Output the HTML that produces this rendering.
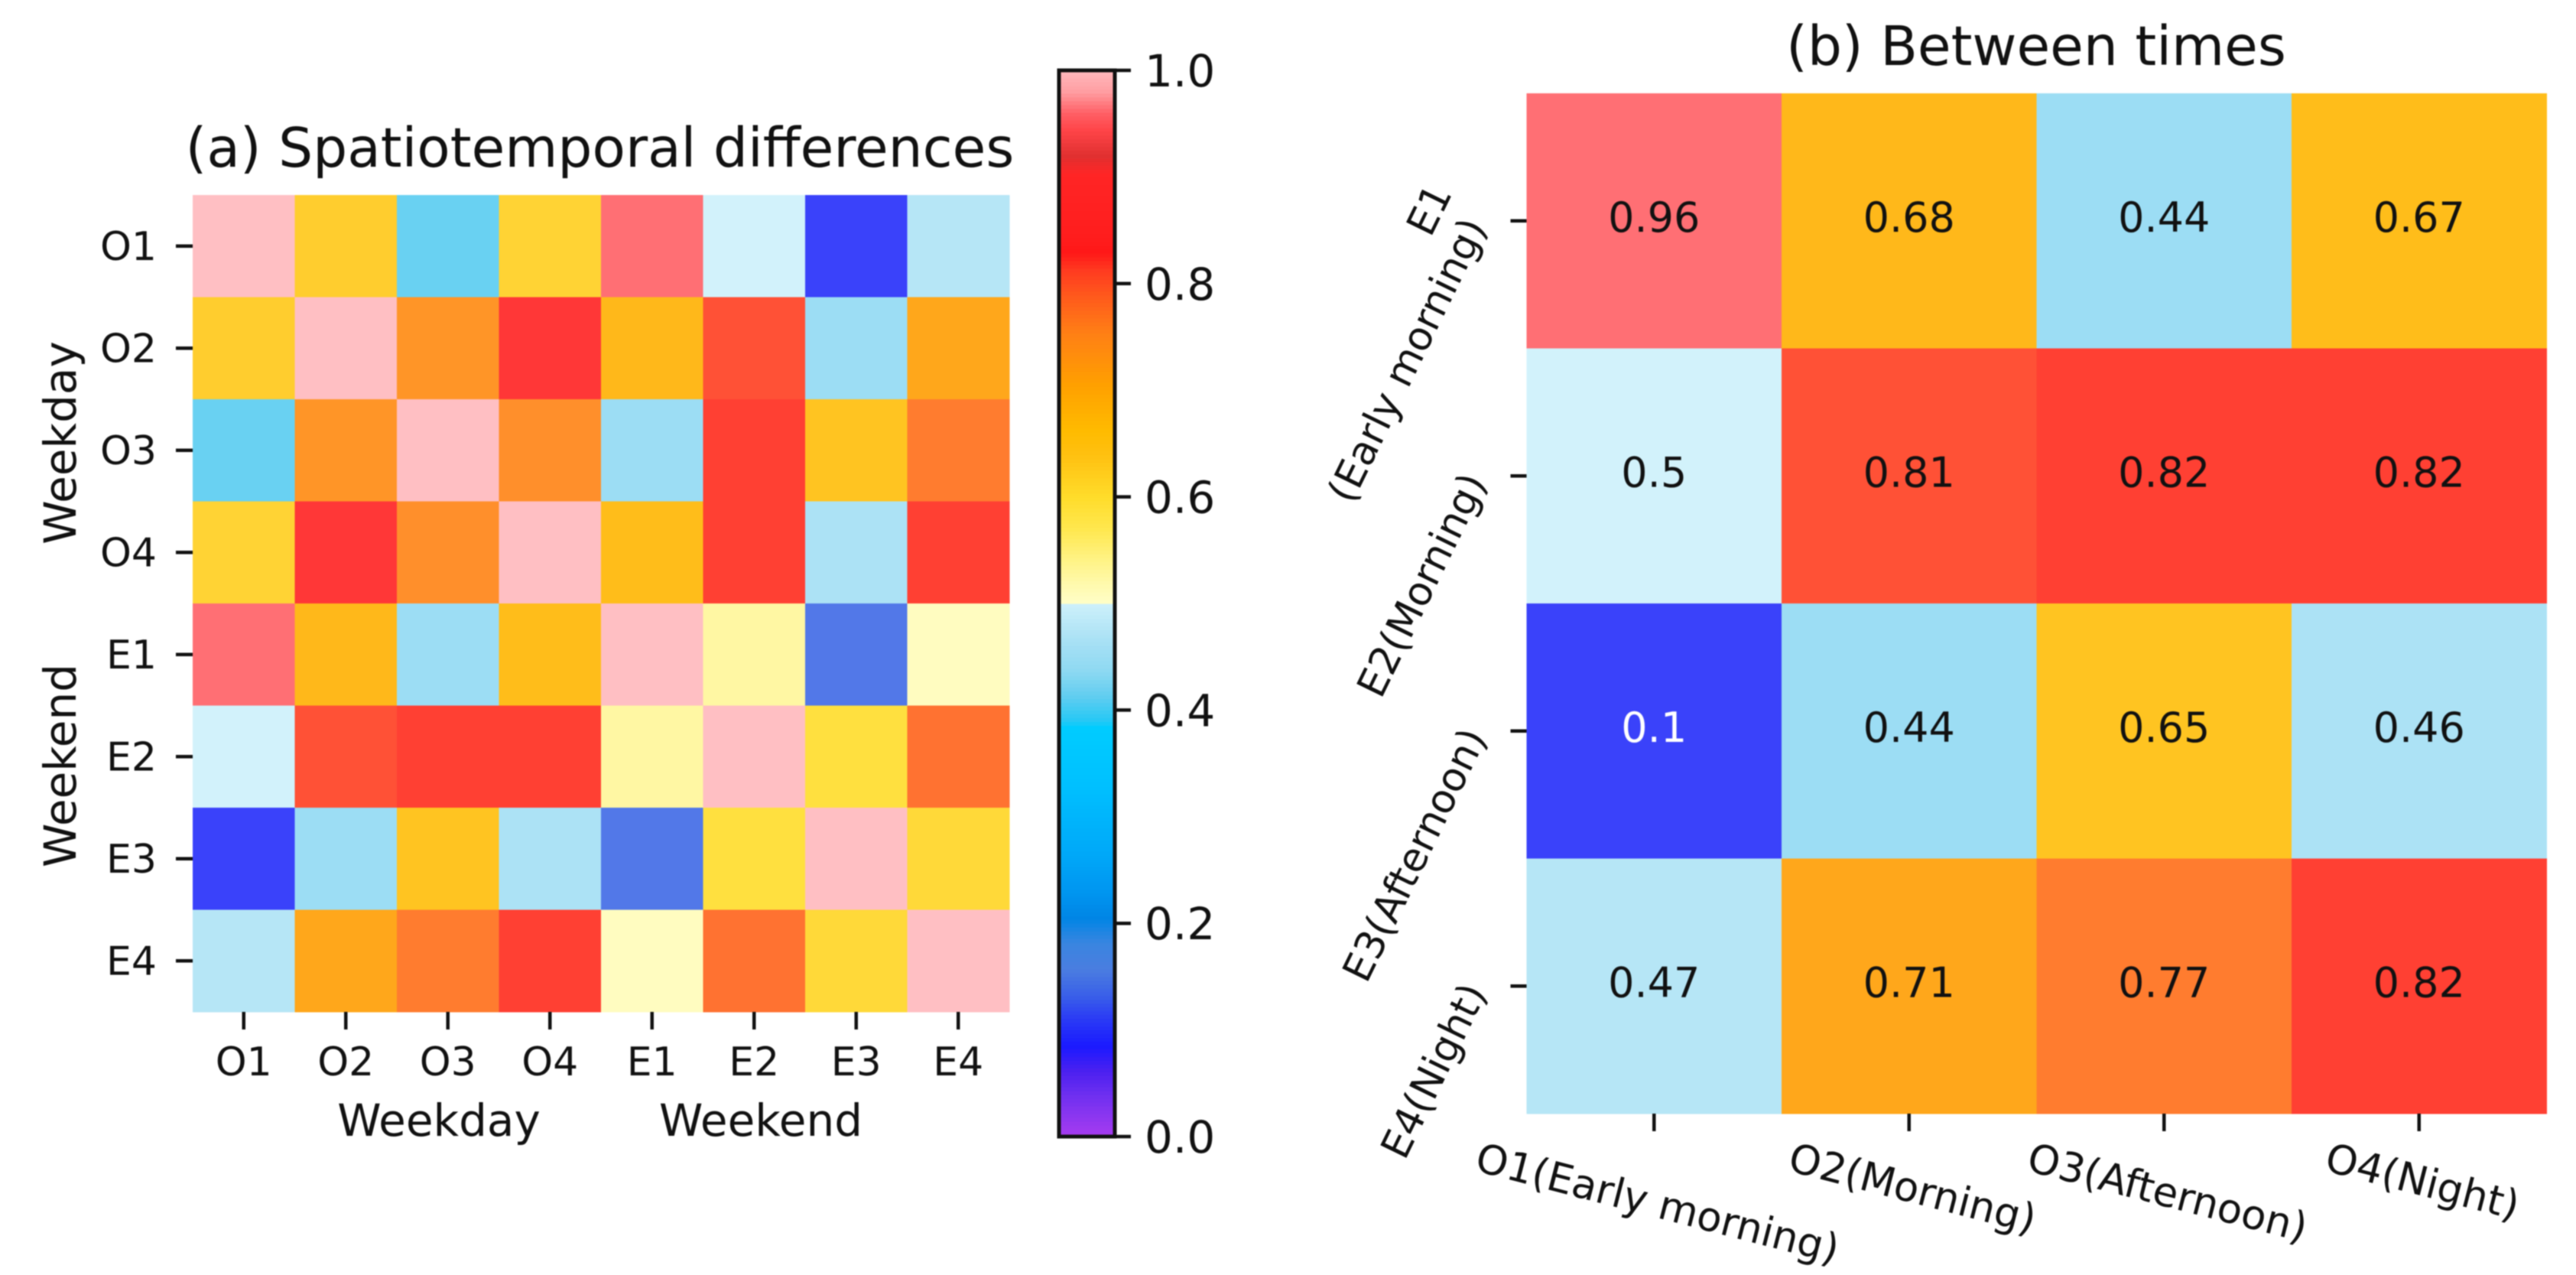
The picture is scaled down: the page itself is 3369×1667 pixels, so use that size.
<!DOCTYPE html>
<html>
<head>
<meta charset="utf-8">
<title>Spatiotemporal differences heatmaps</title>
<style>
html,body{margin:0;padding:0;background:#fff;}
svg{display:block;filter:blur(0.9px);}
text{font-family:"DejaVu Sans","Liberation Sans",sans-serif;fill:#111;}
</style>
</head>
<body>
<svg id="chart" xmlns="http://www.w3.org/2000/svg" width="3369" height="1667" viewBox="0 0 3369 1667">
<rect x="0" y="0" width="3369" height="1667" fill="#ffffff"/>
<text x="784.5" y="218" font-size="71" text-anchor="middle">(a) Spatiotemporal differences</text>
<text x="574" y="1485" font-size="58" text-anchor="middle">Weekday</text>
<text x="995" y="1485" font-size="58" text-anchor="middle">Weekend</text>
<text transform="translate(99,579) rotate(-90)" font-size="58" text-anchor="middle">Weekday</text>
<text transform="translate(99,1001) rotate(-90)" font-size="58" text-anchor="middle">Weekend</text>
<text x="2663" y="85" font-size="71" text-anchor="middle">(b) Between times</text>
</svg>
<script>
// ---- Panel (a) data ----
const categoriesA = ["O1","O2","O3","O4","E1","E2","E3","E4"];
const rowO1 = [1.00,0.63,0.41,0.62,0.96,0.50,0.10,0.47];
const rowO2 = [0.63,1.00,0.74,0.87,0.68,0.81,0.44,0.71];
const rowO3 = [0.41,0.74,1.00,0.75,0.44,0.82,0.65,0.77];
const rowO4 = [0.62,0.87,0.75,1.00,0.67,0.82,0.46,0.82];
const rowE1 = [0.96,0.68,0.44,0.67,1.00,0.53,0.14,0.51];
const rowE2 = [0.50,0.81,0.82,0.82,0.53,1.00,0.60,0.78];
const rowE3 = [0.10,0.44,0.65,0.46,0.14,0.60,1.00,0.61];
const rowE4 = [0.47,0.71,0.77,0.82,0.51,0.78,0.61,1.00];
const valuesA = [rowO1,rowO2,rowO3,rowO4,rowE1,rowE2,rowE3,rowE4];

// ---- Panel (b) data ----
const xLabelsB = ["O1(Early morning)","O2(Morning)","O3(Afternoon)","O4(Night)"];
const yLabelsB = [["E1","(Early morning)"],["E2(Morning)"],["E3(Afternoon)"],["E4(Night)"]];
const rowBE1 = [0.96,0.68,0.44,0.67];
const rowBE2 = [0.5,0.81,0.82,0.82];
const rowBE3 = [0.1,0.44,0.65,0.46];
const rowBE4 = [0.47,0.71,0.77,0.82];
const valuesB = [rowBE1,rowBE2,rowBE3,rowBE4];

// ---- Colour bar data ----
const colorbarTicks = [0,0.2,0.4,0.6,0.8,1];
const colorbarTickLabels = ["0.0","0.2","0.4","0.6","0.8","1.0"];
const colormapValues = [0,0.038,0.062,0.085,0.11,0.133,0.157,0.181,0.205,0.229,0.265,0.329,0.384,0.39,0.413,0.437,0.461,0.5,0.5001,0.52,0.544,0.569,0.6,0.64,0.662,0.705,0.753,0.788,0.813,0.829,0.849,0.903,0.92,0.944,0.96,0.98,1];
const colormapColors = ["#a83cf0","#7030f0","#4a20f0","#1a1aff","#2a3af5","#3a60e8","#4a7de0","#3a85e0","#0085e5","#0095f0","#00a8f8","#00c0ff","#00ccff","#25c8f5","#60cdf0","#8ed9f2","#a4dff4","#cdf0fa","#ffffc8","#fff9aa","#fff280","#ffe850","#ffdc2a","#ffc010","#ffbb00","#ffa000","#ff8015","#ff5a1c","#ff3a20","#ff1818","#ff1e1e","#ff2525","#e03030","#ff4448","#ff5f65","#ff9ea2","#ffb8bc"];

// ---- Scales ----
const svg = document.getElementById('chart');
const NS = 'http://www.w3.org/2000/svg';
const plotA = {left:252, top:255, size:1068};
const plotB = {left:1996.5, top:122, size:1334};
const barBox = {left:1385, right:1458, top:92, bottom:1486};
function bandA(i){ return i * plotA.size / categoriesA.length; }
function bandBX(i){ return plotB.left + i * plotB.size / xLabelsB.length; }
function bandBY(i){ return plotB.top + i * plotB.size / yLabelsB.length; }
function barY(v){ return barBox.bottom - v * (barBox.bottom - barBox.top); }

function hexRgb(h){ return [1,3,5].map(function(p){ return parseInt(h.substr(p,2),16); }); }
function cmap(v){
  v = Math.max(0, Math.min(1, v));
  let k = 0;
  while (k < colormapValues.length - 2 && v > colormapValues[k+1]) k++;
  const a = colormapValues[k], b = colormapValues[k+1];
  const t = (v - a) / (b - a);
  const c0 = hexRgb(colormapColors[k]), c1 = hexRgb(colormapColors[k+1]);
  return [0,1,2].map(function(j){ return c0[j] + (c1[j] - c0[j]) * t; });
}
function css(c){ return 'rgb(' + c.map(function(x){ return Math.round(x); }).join(',') + ')'; }
function cellColor(v){ return css(cmap(v).map(function(x){ return x * 0.9 + 255 * 0.1; })); }

function mk(tag, attrs, txt){
  const el = document.createElementNS(NS, tag);
  for (const k in attrs) el.setAttribute(k, attrs[k]);
  if (txt !== undefined) el.textContent = txt;
  svg.appendChild(el);
  return el;
}
function tick(x1,y1,x2,y2){
  return mk('line',{x1:x1,y1:y1,x2:x2,y2:y2,stroke:'#111','stroke-width':4.5});
}

// ---- Panel (a) ----
valuesA.forEach(function(row, r){
  row.forEach(function(v, c){
    const cell = mk('rect',{x:plotA.left+bandA(c),y:plotA.top+bandA(r),width:bandA(1)+0.5,height:bandA(1)+0.5,fill:cellColor(v)});
    
    
  });
});
categoriesA.forEach(function(label, i){
  const cx = plotA.left + bandA(i) + bandA(1)/2;
  const cy = plotA.top + bandA(i) + bandA(1)/2;
  const tx = tick(cx, plotA.top+plotA.size, cx, plotA.top+plotA.size+23);
  
  
  const ty = tick(plotA.left-22, cy, plotA.left, cy);
  
  
  const lx = mk('text',{x:cx,y:1406,'font-size':52,'text-anchor':'middle'},label);
  
  
  const ly = mk('text',{x:205,y:cy+18,'font-size':52,'text-anchor':'end'},label);
  
  
});

// ---- Colour bar ----
const barSteps = 280;
for (let i = 0; i < barSteps; i++){
  const v = (i + 0.5) / barSteps;
  const y1 = barY((i + 1) / barSteps), y0 = barY(i / barSteps);
  const seg = mk('rect',{x:barBox.left,y:y1,width:barBox.right-barBox.left,height:y0-y1+0.6,fill:css(cmap(v))});
  
  
}
const barFrame = mk('rect',{x:barBox.left,y:barBox.top,width:barBox.right-barBox.left,height:barBox.bottom-barBox.top,fill:'none',stroke:'#111','stroke-width':5});


colorbarTicks.forEach(function(v, i){
  const y = barY(v);
  const t = tick(barBox.right, y, barBox.right+21, y);
  
  
  const l = mk('text',{x:1497,y:y+21,'font-size':58},colorbarTickLabels[i]);
  
  
});

// ---- Panel (b) ----
const cellW = plotB.size / xLabelsB.length, cellH = plotB.size / yLabelsB.length;
valuesB.forEach(function(row, r){
  row.forEach(function(v, c){
    const cell = mk('rect',{x:bandBX(c),y:bandBY(r),width:cellW+0.5,height:cellH+0.5,fill:cellColor(v)});
    
    
    const t = mk('text',{x:bandBX(c)+cellW/2,y:bandBY(r)+cellH/2+14,'font-size':54,'text-anchor':'middle'},String(v));
    
    
    if (v < 0.3) t.style.fill = '#ffffff';
  });
});
xLabelsB.forEach(function(label, i){
  const cx = bandBX(i) + cellW/2;
  const base = plotB.top + plotB.size;
  const t = tick(cx, base, cx, base+23);
  
  
  const l = mk('text',{'font-size':53,'text-anchor':'middle'},label);
  
  
  const half = l.getComputedTextLength() / 2;
  const cy = 1530 + half * Math.sin(14.5 * Math.PI / 180);
  l.setAttribute('transform', 'translate(' + cx + ',' + cy + ') rotate(14.5)');
});
yLabelsB.forEach(function(lines, i){
  const cy = bandBY(i) + cellH/2;
  const t = tick(plotB.left-21, cy, plotB.left, cy);
  
  
  lines.forEach(function(line, k){
    const off = (k - (lines.length - 1)) * 60;
    const along = off < 0 ? 20 : 0;
    const l = mk('text',{x:along,y:off,'font-size':52,'text-anchor':'end',transform:'translate(1945,'+(cy+8)+') rotate(-64)'},line);
    
    
  });
});
</script>
</body>
</html>
